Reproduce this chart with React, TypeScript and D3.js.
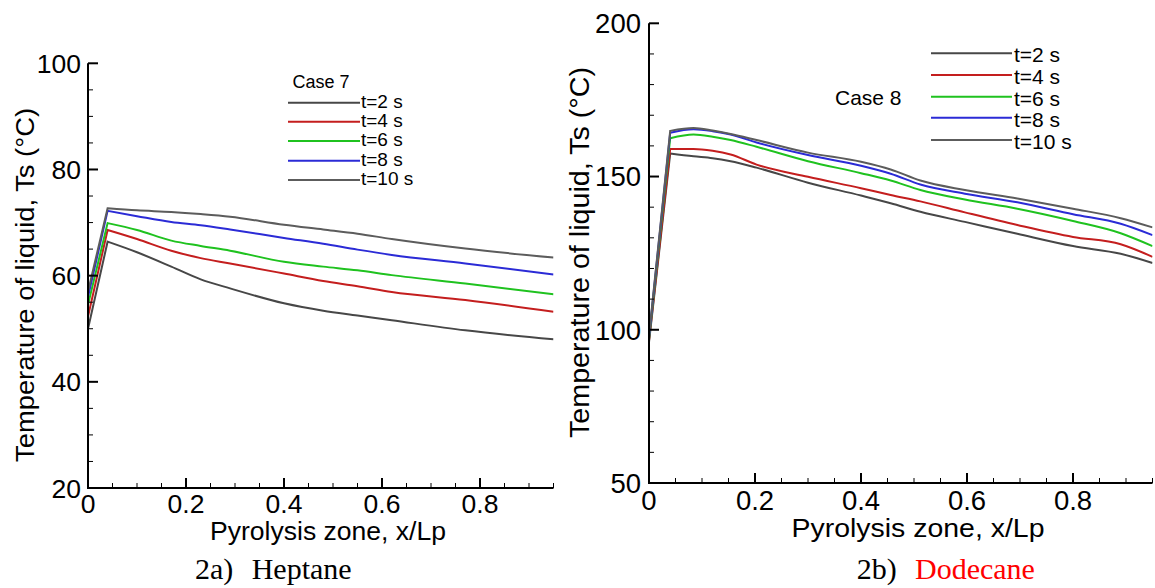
import React from "react";
import * as d3 from "d3";

// ---------- data ----------
const seriesLabels = ["t=2 s", "t=4 s", "t=6 s", "t=8 s", "t=10 s"];
const seriesColors = ["#474747", "#c41e1e", "#1fc21f", "#2b2bd6", "#5c5c5c"];

// 2a) Heptane, Case 7
const heptaneX = [0, 0.04, 0.1, 0.17, 0.23, 0.29, 0.4, 0.48, 0.55, 0.62, 0.77, 0.95];
const heptaneT2 = [50.0, 66.4, 64.4, 61.7, 59.3, 57.6, 54.8, 53.4, 52.5, 51.6, 49.7, 48.0];
const heptaneT4 = [52.3, 68.6, 66.9, 64.7, 63.3, 62.3, 60.4, 59.0, 58.0, 56.9, 55.4, 53.2];
const heptaneT6 = [54.5, 69.9, 68.6, 66.6, 65.6, 64.7, 62.6, 61.7, 61.0, 60.1, 58.5, 56.5];
const heptaneT8 = [56.0, 72.2, 71.2, 70.1, 69.5, 68.7, 67.1, 66.0, 64.9, 63.9, 62.3, 60.2];
const heptaneT10 = [57.0, 72.7, 72.3, 72.0, 71.6, 71.1, 69.6, 68.7, 67.9, 66.9, 65.1, 63.4];

// 2b) Dodecane, Case 8
const dodecaneX = [0, 0.04, 0.084, 0.12, 0.154, 0.203, 0.3, 0.4, 0.456, 0.512, 0.596, 0.695, 0.8, 0.89, 0.95];
const dodecaneT2 = [96.0, 157.5, 156.6, 156.0, 155.0, 152.9, 148.0, 143.8, 141.3, 138.5, 135.2, 131.3, 127.3, 124.8, 121.8];
const dodecaneT4 = [96.5, 159.0, 159.0, 158.4, 157.2, 153.9, 149.9, 146.2, 144.0, 141.9, 138.3, 134.2, 130.3, 127.9, 123.8];
const dodecaneT6 = [97.0, 162.5, 163.7, 163.0, 161.9, 159.7, 155.0, 151.1, 148.7, 145.6, 142.5, 139.5, 135.5, 131.5, 127.3];
const dodecaneT8 = [97.5, 164.3, 165.4, 164.8, 163.7, 161.1, 157.0, 153.5, 150.9, 147.4, 144.4, 141.6, 137.7, 134.6, 130.9];
const dodecaneT10 = [98.0, 164.9, 165.8, 165.0, 163.9, 161.9, 157.8, 154.8, 152.3, 148.7, 145.6, 142.8, 139.5, 136.4, 133.4];

const xMajorTicks = [0, 0.2, 0.4, 0.6, 0.8];
const heptaneYTicks = [20, 40, 60, 80, 100];
const dodecaneYTicks = [50, 100, 150, 200];

const xTitle = "Pyrolysis zone, x/Lp";
const yTitle = "Temperature of liquid, Ts (°C)";

const SANS = "'Liberation Sans', Arial, sans-serif";
const SERIF = "'Liberation Serif', 'Times New Roman', serif";

type PanelProps = {
  id: string;
  xs: number[];
  series: number[][];
  xRange: [number, number];
  yDomain: [number, number];
  yRange: [number, number];
  yTicks: number[];
  yMinorStep: number;
  tickFont: number;
  yLabelGap: number;
  xLabelDy: number;
  xTitleProps: { x: number; y: number; size: number; len: number };
  yTitleProps: { x: number; y: number; size: number; len: number };
  caseLabel: { text: string; x: number; y: number; size: number };
  legend: { x0: number; x1: number; rows: number[]; size: number; dy: number; tx: number };
};

function Panel(p: PanelProps) {
  const x = d3.scaleLinear().domain([0, 0.95]).range(p.xRange);
  const y = d3.scaleLinear().domain(p.yDomain).range(p.yRange);
  const smooth = d3
    .line<[number, number]>()
    .x((d) => x(d[0]))
    .y((d) => y(d[1]))
    .curve(d3.curveMonotoneX);
  const pathFor = (s: number[]) => {
    // straight rise from x=0 to the peak, smooth decline afterwards
    const pts: [number, number][] = s.map((v, i) => [p.xs[i], v]);
    const rest = smooth(pts.slice(1)) || "";
    return `M${x(pts[0][0])},${y(pts[0][1])}L${rest.slice(1)}`;
  };
  const xMinor = d3.range(0, 0.951, 0.05).filter((v) => !xMajorTicks.some((m) => Math.abs(m - v) < 1e-6));
  const yMinor = d3
    .range(p.yDomain[0], p.yDomain[1] + 0.001, p.yMinorStep)
    .filter((v) => !p.yTicks.includes(v));
  const ax = p.xRange[0];
  const ay = p.yRange[0];
  return (
    <g>
      <defs>
        <clipPath id={`clip-${p.id}`}>
          <rect x={ax} y={p.yRange[1]} width={p.xRange[1] - ax} height={ay - p.yRange[1]} />
        </clipPath>
      </defs>
      {/* curves */}
      <g clipPath={`url(#clip-${p.id})`}>
        {p.series.map((s, i) => (
          <path key={i} d={pathFor(s)} fill="none" stroke={seriesColors[i]} strokeWidth={2} strokeLinejoin="miter" />
        ))}
      </g>
      {/* axes */}
      <line x1={ax} x2={ax} y1={p.yRange[1]} y2={ay} stroke="#000" strokeWidth={2} />
      <line x1={ax - 1} x2={p.xRange[1]} y1={ay} y2={ay} stroke="#000" strokeWidth={2} />
      {p.yTicks.map((t) => (
        <g key={`ym${t}`}>
          <line x1={ax} x2={ax + 10} y1={y(t)} y2={y(t)} stroke="#000" strokeWidth={2} />
          <text
            x={ax - p.yLabelGap}
            y={y(t)}
            dy="0.36em"
            textAnchor="end"
            fontFamily={SANS}
            fontSize={p.tickFont}
          >
            {t}
          </text>
        </g>
      ))}
      {yMinor.map((t) => (
        <line key={`yn${t}`} x1={ax} x2={ax + 5} y1={y(t)} y2={y(t)} stroke="#000" strokeWidth={1} />
      ))}
      {xMajorTicks.map((t) => (
        <g key={`xm${t}`}>
          <line x1={x(t)} x2={x(t)} y1={ay} y2={ay - 10} stroke="#000" strokeWidth={2} />
          <text x={x(t)} y={ay + p.xLabelDy} textAnchor="middle" fontFamily={SANS} fontSize={p.tickFont}>
            {t === 0 ? "0" : t.toString()}
          </text>
        </g>
      ))}
      {xMinor.map((t) => (
        <line key={`xn${t}`} x1={x(t)} x2={x(t)} y1={ay} y2={ay - 5} stroke="#000" strokeWidth={1} />
      ))}
      {/* axis titles */}
      <text
        x={p.xTitleProps.x}
        y={p.xTitleProps.y}
        textAnchor="middle"
        fontFamily={SANS}
        fontSize={p.xTitleProps.size}
        textLength={p.xTitleProps.len}
        lengthAdjust="spacingAndGlyphs"
      >
        {xTitle}
      </text>
      <text
        transform={`translate(${p.yTitleProps.x},${p.yTitleProps.y}) rotate(-90)`}
        textAnchor="middle"
        fontFamily={SANS}
        fontSize={p.yTitleProps.size}
        textLength={p.yTitleProps.len}
        lengthAdjust="spacingAndGlyphs"
      >
        {yTitle}
      </text>
      {/* legend */}
      <text x={p.caseLabel.x} y={p.caseLabel.y} fontFamily={SANS} fontSize={p.caseLabel.size}>
        {p.caseLabel.text}
      </text>
      {seriesLabels.map((lab, i) => (
        <g key={lab}>
          <line
            x1={p.legend.x0}
            x2={p.legend.x1}
            y1={p.legend.rows[i]}
            y2={p.legend.rows[i]}
            stroke={seriesColors[i]}
            strokeWidth={2}
          />
          <text x={p.legend.tx} y={p.legend.rows[i] + p.legend.dy} fontFamily={SANS} fontSize={p.legend.size}>
            {lab}
          </text>
        </g>
      ))}
    </g>
  );
}

export default function App() {
  return (
    <svg
      width={1155}
      height={588}
      viewBox="0 0 1155 588"
      style={{ position: "absolute", left: 0, top: 0, background: "#fff" }}
    >
      <rect x={0} y={0} width={1155} height={588} fill="#fff" />
      <Panel
        id="hep"
        xs={heptaneX}
        series={[heptaneT2, heptaneT4, heptaneT6, heptaneT8, heptaneT10]}
        xRange={[88, 553.5]}
        yDomain={[20, 100]}
        yRange={[488, 63.3]}
        yTicks={heptaneYTicks}
        yMinorStep={5}
        tickFont={26.5}
        yLabelGap={7}
        xLabelDy={25}
        xTitleProps={{ x: 328, y: 540, size: 25, len: 236 }}
        yTitleProps={{ x: 34, y: 285, size: 26, len: 354 }}
        caseLabel={{ text: "Case 7", x: 292.5, y: 88, size: 18 }}
        legend={{ x0: 288, x1: 360, rows: [102.7, 121.7, 141, 160.7, 180], size: 19, dy: 5, tx: 361 }}
      />
      <Panel
        id="dod"
        xs={dodecaneX}
        series={[dodecaneT2, dodecaneT4, dodecaneT6, dodecaneT8, dodecaneT10]}
        xRange={[649, 1152.5]}
        yDomain={[50, 200]}
        yRange={[483, 23.3]}
        yTicks={dodecaneYTicks}
        yMinorStep={10}
        tickFont={27.5}
        yLabelGap={8}
        xLabelDy={27}
        xTitleProps={{ x: 918, y: 537, size: 26.5, len: 253 }}
        yTitleProps={{ x: 589, y: 252.5, size: 27, len: 371 }}
        caseLabel={{ text: "Case 8", x: 835, y: 105, size: 21 }}
        legend={{ x0: 931, x1: 1012, rows: [53.3, 75, 96.7, 117.7, 140], size: 21, dy: 9, tx: 1014 }}
      />
      {/* captions */}
      <text y={579} fontFamily={SERIF} fontSize={30}>
        <tspan x={195}>2a)</tspan>
        <tspan x={251.7}>Heptane</tspan>
      </text>
      <text y={579} fontFamily={SERIF} fontSize={30}>
        <tspan x={856.7}>2b)</tspan>
        <tspan x={915} fill="#ff0000">Dodecane</tspan>
      </text>
    </svg>
  );
}
